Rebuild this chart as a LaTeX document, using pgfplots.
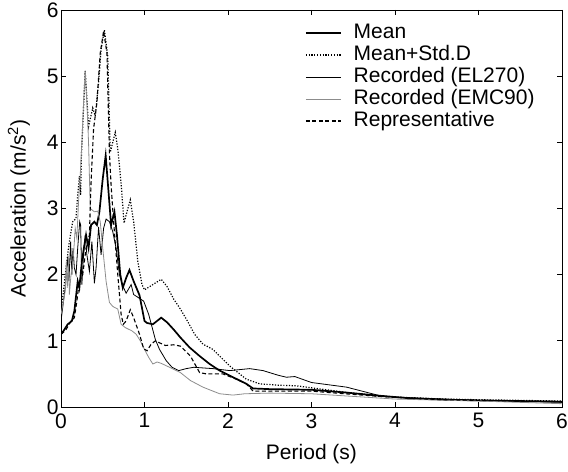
\documentclass[border=0pt]{standalone}
\usepackage{fontspec}
\setmainfont{Liberation Sans}
\usepackage{pgfplots}
\pgfplotsset{compat=1.18}
\begin{document}
\begin{tikzpicture}
\begin{axis}[
  scale only axis,
  width=501bp, height=397bp,
  xmin=0, xmax=6, ymin=0, ymax=6,
  xtick={0,1,2,3,4,5,6}, ytick={0,1,2,3,4,5,6},
  tick align=inside,
  major tick length=5bp,
  axis line style={line width=0.9bp},
  tick style={line width=0.7bp, black},
  font=\fontsize{21bp}{25bp}\selectfont,
  /pgf/number format/assume math mode=true,
  xticklabel style={yshift=-3bp},
  yticklabel style={xshift=1bp},
  xlabel={Period (s)},
  ylabel={Acceleration (m/s\textsuperscript{2})},
  xlabel style={at={(axis description cs:0.5,-0.118)}, anchor=center},
  ylabel style={at={(axis description cs:-0.084,0.5)}, anchor=center},
  legend style={at={(0.487,0.966)}, anchor=north west, draw=none, fill=none,
    inner sep=0bp, outer sep=0bp,
    font=\fontsize{21bp}{25bp}\selectfont, row sep=3bp,
    nodes={inner sep=0bp, text height=15bp, text depth=4bp},
    /tikz/every odd column/.append style={column sep=12bp}},
  legend cell align=left,
  legend image code/.code={\draw[#1] (0bp,0bp) -- (35bp,0bp);},
]
% Mean
\addplot[black, line width=1.7bp] coordinates {
(0,1.1) (0.03,1.15) (0.08,1.25) (0.13,1.3) (0.16,1.45) (0.2,1.9) (0.22,1.8) (0.25,2.2) (0.28,2.45) (0.3,2.6) (0.33,2.4) (0.36,2.75) (0.4,2.8) (0.43,2.75) (0.46,2.95) (0.5,3.45) (0.535,3.8) (0.56,3.4) (0.6,2.75) (0.64,2.95) (0.67,2.6) (0.71,2.0) (0.74,1.8) (0.78,1.95) (0.82,2.07) (0.87,1.9) (0.94,1.69) (1.0,1.3) (1.03,1.27) (1.1,1.25) (1.15,1.3) (1.2,1.35) (1.27,1.28) (1.35,1.17) (1.43,1.05) (1.54,0.9) (1.66,0.77) (1.78,0.65) (1.9,0.55) (2.06,0.45) (2.22,0.35) (2.3,0.28) (2.5,0.27) (3.0,0.26) (3.4,0.22) (3.82,0.17) (4.2,0.13) (4.6,0.11) (5.0,0.1) (5.5,0.09) (6.0,0.08)
};
\addlegendentry{Mean}
% Mean+Std.D
\addplot[black, line width=1.2bp, dash pattern=on 1.2bp off 1.6bp] coordinates {
(0,1.45) (0.03,1.75) (0.06,2.1) (0.1,2.5) (0.14,2.8) (0.18,2.85) (0.2,3.2) (0.22,3.49) (0.235,3.2) (0.245,3.82) (0.29,5.08) (0.33,4.24) (0.38,4.52) (0.41,4.4) (0.45,4.9) (0.48,5.4) (0.52,5.7) (0.56,5.3) (0.59,3.85) (0.62,4.0) (0.65,4.15) (0.68,3.9) (0.72,3.38) (0.755,2.78) (0.79,2.95) (0.83,3.13) (0.87,2.8) (0.92,2.2) (0.97,1.85) (1.0,1.77) (1.1,1.85) (1.2,1.93) (1.27,1.82) (1.35,1.63) (1.43,1.48) (1.5,1.33) (1.6,1.1) (1.7,0.95) (1.82,0.87) (2.02,0.62) (2.22,0.42) (2.38,0.35) (2.6,0.33) (2.82,0.32) (3.0,0.29) (3.42,0.22) (3.82,0.16) (4.2,0.14) (4.6,0.12) (5.0,0.11) (5.5,0.1) (6.0,0.09)
};
\addlegendentry{Mean+Std.D}
% Recorded EL270
\addplot[black, line width=0.8bp] coordinates {
(0,1.3) (0.02,1.5) (0.05,1.8) (0.07,2.1) (0.084,2.28) (0.095,1.9) (0.115,2.5) (0.13,2.0) (0.144,2.4) (0.16,2.1) (0.18,2.0) (0.2,2.4) (0.224,2.8) (0.235,2.75) (0.25,1.85) (0.27,2.3) (0.29,2.6) (0.31,2.3) (0.34,2.05) (0.37,2.5) (0.4,1.87) (0.42,2.1) (0.45,2.72) (0.48,2.3) (0.51,2.7) (0.54,2.84) (0.58,2.8) (0.62,2.65) (0.66,2.4) (0.7,2.0) (0.74,1.83) (0.78,1.72) (0.84,1.85) (0.87,1.7) (0.93,1.65) (0.99,1.6) (1.05,1.4) (1.13,1.02) (1.18,0.87) (1.26,0.7) (1.33,0.6) (1.41,0.55) (1.5,0.58) (1.59,0.6) (1.82,0.58) (2.02,0.55) (2.26,0.58) (2.42,0.55) (2.6,0.48) (2.7,0.45) (2.8,0.46) (3.0,0.37) (3.42,0.3) (3.82,0.17) (4.0,0.15) (4.6,0.12) (5.0,0.1) (6.0,0.07)
};
\addlegendentry{Recorded (EL270)}
% Recorded EMC90
\addplot[black!45, line width=0.8bp] coordinates {
(0,1.4) (0.03,1.6) (0.05,1.75) (0.064,2.2) (0.075,1.8) (0.09,2.25) (0.1,1.7) (0.12,2.0) (0.15,2.3) (0.17,2.7) (0.19,2.55) (0.21,3.1) (0.23,3.5) (0.25,4.0) (0.27,4.6) (0.29,5.08) (0.31,4.6) (0.33,4.0) (0.35,3.0) (0.36,2.99) (0.4,2.95) (0.44,2.96) (0.47,2.8) (0.5,2.4) (0.54,1.9) (0.58,1.58) (0.62,1.52) (0.68,1.48) (0.72,1.25) (0.77,1.2) (0.85,1.15) (0.9,1.1) (0.95,1.0) (1.0,0.87) (1.05,0.75) (1.1,0.65) (1.15,0.68) (1.2,0.66) (1.3,0.6) (1.43,0.52) (1.55,0.4) (1.7,0.3) (1.9,0.2) (2.06,0.18) (2.2,0.2) (2.5,0.21) (3.0,0.2) (3.5,0.16) (4.0,0.12) (5.0,0.09) (6.0,0.05)
};
\addlegendentry{Recorded (EMC90)}
% Representative
\addplot[black, line width=1.1bp, dash pattern=on 4bp off 2.5bp] coordinates {
(0,1.1) (0.05,1.15) (0.084,1.22) (0.12,1.3) (0.16,1.35) (0.19,1.6) (0.22,1.9) (0.26,2.0) (0.3,2.4) (0.34,2.6) (0.36,3.4) (0.39,4.2) (0.43,4.6) (0.47,5.35) (0.51,5.68) (0.55,5.35) (0.58,3.84) (0.6,3.35) (0.63,2.8) (0.68,2.0) (0.72,1.4) (0.746,1.25) (0.78,1.3) (0.83,1.47) (0.87,1.35) (0.94,1.1) (0.99,0.88) (1.03,0.85) (1.08,0.95) (1.13,1.0) (1.18,0.97) (1.25,0.93) (1.35,0.94) (1.43,0.92) (1.55,0.77) (1.66,0.52) (1.74,0.5) (1.94,0.5) (2.1,0.42) (2.22,0.35) (2.3,0.24) (2.6,0.24) (3.0,0.24) (3.4,0.2) (3.82,0.16) (4.2,0.13) (4.6,0.11) (5.0,0.1) (6.0,0.08)
};
\addlegendentry{Representative}
\end{axis}
\pgfresetboundingbox
\path[use as bounding box] ([xshift=-61bp,yshift=-65bp]current axis.south west) rectangle ([xshift=6bp,yshift=10bp]current axis.north east);
\end{tikzpicture}
\end{document}
